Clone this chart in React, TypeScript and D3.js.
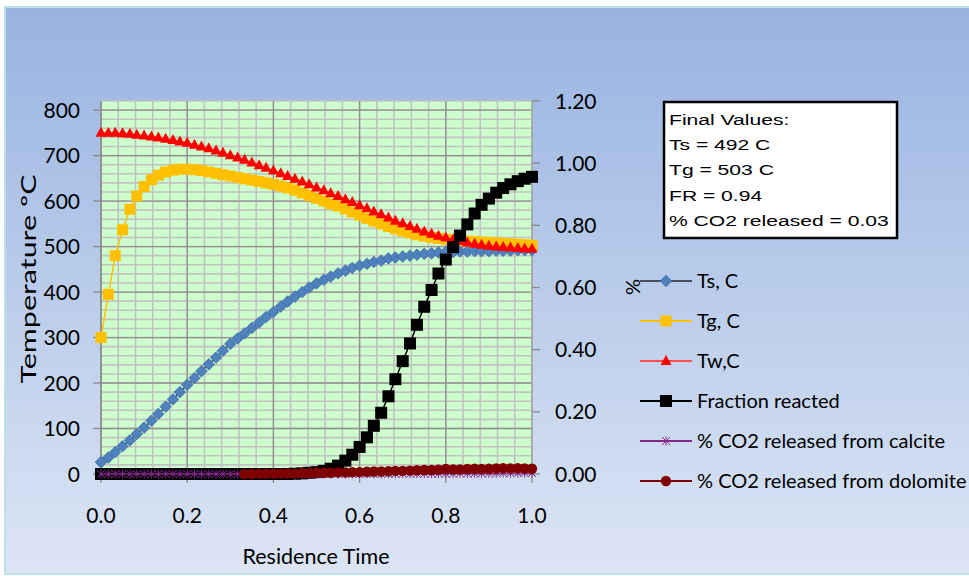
import React from 'react';
import * as d3 from 'd3';

// residence time (normalised) for each sample
const time = [
  0, 0.017, 0.033, 0.05, 0.067, 0.083,
  0.1, 0.117, 0.133, 0.15, 0.167, 0.183,
  0.2, 0.217, 0.233, 0.25, 0.267, 0.283,
  0.3, 0.317, 0.333, 0.35, 0.367, 0.383,
  0.4, 0.417, 0.433, 0.45, 0.467, 0.483,
  0.5, 0.517, 0.533, 0.55, 0.567, 0.583,
  0.6, 0.617, 0.633, 0.65, 0.667, 0.683,
  0.7, 0.717, 0.733, 0.75, 0.767, 0.783,
  0.8, 0.817, 0.833, 0.85, 0.867, 0.883,
  0.9, 0.917, 0.933, 0.95, 0.967, 0.983,
  1.0,
];

// temperatures, deg C (left axis)
const tsC = [
  26, 36, 48, 61, 74, 88,
  102, 117, 132, 148, 164, 180,
  196, 211, 226, 241, 256, 271,
  286, 298, 309, 321, 333, 345,
  356, 368, 379, 390, 400, 410,
  419, 427, 434, 441, 447, 453,
  458, 462, 466, 469, 474, 476,
  478, 480, 482, 484, 485, 487,
  488, 488, 489, 489, 490, 490,
  490, 491, 491, 491, 492, 492,
  492,
];
const tgC = [
  300, 395, 480, 537, 582, 611,
  632, 647, 657, 664, 668, 670,
  670, 669, 667, 664, 661, 658,
  655, 652, 649, 646, 643, 640,
  637, 633, 629, 624, 618, 612,
  606, 600, 594, 589, 583, 576,
  569, 562, 556, 550, 544, 539,
  534, 530, 526, 523, 520, 518,
  516, 514, 513, 512, 511, 510,
  509, 508, 507, 506, 505, 504,
  503,
];
const twC = [
  750, 750, 750, 749, 748, 746,
  744, 742, 740, 737, 734, 731,
  728, 724, 720, 716, 711, 706,
  701, 696, 691, 685, 679, 673,
  667, 661, 655, 649, 643, 637,
  630, 624, 617, 611, 604, 598,
  591, 584, 577, 571, 564, 557,
  551, 545, 539, 533, 528, 524,
  520, 516, 512, 509, 506, 504,
  502, 500, 499, 498, 497, 496,
  495,
];

// fractions (right axis)
const fracReacted = [
  0, 0, 0, 0, 0, 0,
  0, 0, 0, 0, 0, 0,
  0, 0, 0, 0, 0, 0,
  0, 0, 0, 0, 0, 0,
  0, 0, 0, 0.001, 0.002, 0.004,
  0.006, 0.01, 0.017, 0.027, 0.043, 0.062,
  0.087, 0.118, 0.155, 0.197, 0.25, 0.305,
  0.363, 0.42, 0.48, 0.538, 0.592, 0.645,
  0.69, 0.73, 0.767, 0.803, 0.838, 0.866,
  0.886, 0.905, 0.92, 0.932, 0.942, 0.95,
  0.956,
];
const co2Calcite = [
  0, 0, 0, 0, 0, 0,
  0, 0, 0, 0, 0, 0,
  0, 0, 0, 0, 0, 0,
  0, 0, 0, 0, 0, 0,
  0, 0, 0, 0, 0, 0,
  0, 0, 0, 0, 0, 0,
  0, 0, 0, 0, 0.001, 0.001,
  0.001, 0.001, 0.001, 0.001, 0.001, 0.001,
  0.001, 0.001, 0.002, 0.002, 0.002, 0.002,
  0.002, 0.002, 0.003, 0.003, 0.003, 0.003,
  0.003,
];
const co2Dolomite: (number | null)[] = [
  null, null, null, null, null, null,
  null, null, null, null, null, null,
  null, null, null, null, null, null,
  null, null, 0, 0, 0.001, 0.001,
  0.001, 0.002, 0.002, 0.002, 0.003, 0.003,
  0.004, 0.004, 0.004, 0.005, 0.005, 0.006,
  0.006, 0.007, 0.008, 0.008, 0.009, 0.01,
  0.01, 0.011, 0.012, 0.013, 0.013, 0.014,
  0.016, 0.015, 0.015, 0.016, 0.017, 0.016,
  0.017, 0.018, 0.019, 0.018, 0.019, 0.018,
  0.017,
];

const xTicks = [0, 0.2, 0.4, 0.6, 0.8, 1.0];
const leftTicks = [0, 100, 200, 300, 400, 500, 600, 700, 800];
const rightTicks = [0, 0.2, 0.4, 0.6, 0.8, 1.0, 1.2];
const finalLines = ['Final Values:', 'Ts = 492 C', 'Tg = 503 C', 'FR = 0.94', '% CO2 released = 0.03'];

type Marker = 'diamond' | 'square' | 'triangle' | 'bigsquare' | 'star' | 'circle';

interface Series {
  name: string;
  values: (number | null)[];
  axis: 'left' | 'right';
  line: string;
  fill: string;
  stroke: string;
  marker: Marker;
}

const series: Series[] = [
  { name: 'Ts, C', values: tsC, axis: 'left', line: '#4a4e5c', fill: '#4f81bd', stroke: '#3d6ca6', marker: 'diamond' },
  { name: 'Tg, C', values: tgC, axis: 'left', line: '#ffc000', fill: '#ffc000', stroke: '#ffc000', marker: 'square' },
  { name: 'Tw,C', values: twC, axis: 'left', line: '#ff4f4f', fill: '#ff0000', stroke: '#ff0000', marker: 'triangle' },
  { name: 'Fraction reacted', values: fracReacted, axis: 'right', line: '#000000', fill: '#000000', stroke: '#000000', marker: 'bigsquare' },
  { name: '% CO2 released from calcite', values: co2Calcite, axis: 'right', line: '#86278c', fill: 'none', stroke: '#86278c', marker: 'star' },
  { name: '% CO2 released from dolomite', values: co2Dolomite, axis: 'right', line: '#7f0000', fill: '#7f0000', stroke: '#7f0000', marker: 'circle' },
];

const W = 969;
const H = 576;
const plot = { left: 101, right: 532, top: 101, bottom: 474 };
const FONT = 'Lato, "Open Sans", sans-serif';

function MarkerShape({ type, x, y, fill, stroke }: { type: Marker; x: number; y: number; fill: string; stroke: string }) {
  switch (type) {
    case 'diamond':
      return <path d={`M${x},${y - 5.8}L${x + 5.8},${y}L${x},${y + 5.8}L${x - 5.8},${y}Z`} fill={fill} stroke={stroke} strokeWidth={0.8} />;
    case 'square':
      return <rect x={x - 5.5} y={y - 5.5} width={11} height={11} fill={fill} />;
    case 'bigsquare':
      return <rect x={x - 6} y={y - 6} width={12} height={12} fill={fill} />;
    case 'triangle':
      return <path d={`M${x},${y - 6}L${x + 5.5},${y + 4}L${x - 5.5},${y + 4}Z`} fill={fill} />;
    case 'circle':
      return <circle cx={x} cy={y} r={5.2} fill={fill} />;
    case 'star':
      return (
        <path
          d={`M${x - 4},${y - 4}L${x + 4},${y + 4}M${x - 4},${y + 4}L${x + 4},${y - 4}M${x},${y - 4.5}L${x},${y + 4.5}`}
          stroke={stroke}
          strokeWidth={1}
          fill="none"
        />
      );
  }
  return null;
}

export default function App() {
  const x = d3.scaleLinear().domain([0, 1]).range([plot.left, plot.right]);
  const yL = d3.scaleLinear().domain([0, 820]).range([plot.bottom, plot.top]);
  const yR = d3.scaleLinear().domain([0, 1.2]).range([plot.bottom, plot.top]);

  const minorX = d3.range(0, 1.0001, 0.04);
  const majorX = d3.range(0, 1.0001, 0.2);
  const minorY = d3.range(0, 821, 20);
  const majorY = d3.range(100, 801, 100);

  const legendRowY = d3.scalePoint<string>().domain(series.map(s => s.name)).range([281, 481]);

  return (
    <svg width={W} height={H} style={{ position: 'absolute', left: 0, top: 0 }} fontFamily={FONT}>
      <defs>
        <linearGradient id="bg" x1="0" y1="0" x2="0" y2="1">
          <stop offset="0" stopColor="#98b3e1" />
          <stop offset="1" stopColor="#dce5f4" />
        </linearGradient>
      </defs>
      <rect x={0} y={0} width={W} height={H} fill="#ffffff" />
      <rect x={5} y={7} width={W + 10} height={H - 9} fill="url(#bg)" stroke="#bde0e8" strokeWidth={2} />

      {/* plot area */}
      <rect x={plot.left} y={plot.top} width={plot.right - plot.left} height={plot.bottom - plot.top} fill="#ccffcc" />
      <g>
        {minorX.map((v, i) => (
          <line key={'mx' + i} x1={x(v)} x2={x(v)} y1={plot.top} y2={plot.bottom} stroke="#c2c2c2" strokeWidth={1.6} />
        ))}
        {minorY.map((v, i) => (
          <line key={'my' + i} x1={plot.left} x2={plot.right} y1={yL(v)} y2={yL(v)} stroke="#c2c2c2" strokeWidth={1.6} />
        ))}
        {majorX.map((v, i) => (
          <line key={'Mx' + i} x1={x(v)} x2={x(v)} y1={plot.top} y2={plot.bottom} stroke="#909090" strokeWidth={1.3} />
        ))}
        {majorY.map((v, i) => (
          <line key={'My' + i} x1={plot.left} x2={plot.right} y1={yL(v)} y2={yL(v)} stroke="#909090" strokeWidth={1.3} />
        ))}
      </g>

      {/* axes */}
      <line x1={plot.left} x2={plot.left} y1={plot.top} y2={plot.bottom} stroke="#8a8a8a" strokeWidth={1.3} />
      <line x1={plot.right} x2={plot.right} y1={plot.top} y2={plot.bottom} stroke="#a8b4a8" strokeWidth={1.3} />
      <line x1={plot.left} x2={plot.right} y1={plot.bottom} y2={plot.bottom} stroke="#8a8a8a" strokeWidth={1.3} />
      {leftTicks.map(v => (
        <g key={'lt' + v}>
          <line x1={plot.left - 8} x2={plot.left} y1={yL(v)} y2={yL(v)} stroke="#8a8a8a" strokeWidth={1.3} />
          <text x={80} y={yL(v) + 7.5} textAnchor="end" fontSize={21} fill="#000">
            {v}
          </text>
        </g>
      ))}
      {rightTicks.map(v => (
        <g key={'rt' + v}>
          <line x1={plot.right} x2={plot.right + 8} y1={yR(v)} y2={yR(v)} stroke="#8a8a8a" strokeWidth={1.3} />
          <text x={555} y={yR(v) + 7.5} textAnchor="start" fontSize={21} fill="#000">
            {v.toFixed(2)}
          </text>
        </g>
      ))}
      {xTicks.map(v => (
        <g key={'xt' + v}>
          <line x1={x(v)} x2={x(v)} y1={plot.bottom} y2={plot.bottom + 9} stroke="#8a8a8a" strokeWidth={1.3} />
          <text x={x(v)} y={523} textAnchor="middle" fontSize={21} fill="#000">
            {v.toFixed(1)}
          </text>
        </g>
      ))}

      {/* axis titles */}
      <text x={316} y={564} textAnchor="middle" fontSize={21.5} fill="#000">Residence Time</text>
      <text transform="translate(36,279) rotate(-90) scale(1.45,1)" textAnchor="middle" fontSize={21} fill="#000">Temperature ºC</text>
      <text transform="translate(640,287) rotate(-90)" textAnchor="middle" fontSize={20} fill="#000">%</text>

      {/* series */}
      {series.map(s => {
        const yScale = s.axis === 'left' ? yL : yR;
        const pts = s.values.map((v, i) => ({ t: time[i], v }));
        const line = d3
          .line<{ t: number; v: number | null }>()
          .defined(d => d.v != null)
          .x(d => x(d.t))
          .y(d => yScale(d.v as number));
        return (
          <g key={s.name}>
            <path d={line(pts) || ''} fill="none" stroke={s.line} strokeWidth={1.5} />
            {pts
              .filter(d => d.v != null)
              .map((d, i) => (
                <MarkerShape key={i} type={s.marker} x={x(d.t)} y={yScale(d.v as number)} fill={s.fill} stroke={s.stroke} />
              ))}
          </g>
        );
      })}

      {/* legend */}
      {series.map(s => {
        const y = legendRowY(s.name) as number;
        return (
          <g key={'lg' + s.name}>
            <line x1={640} x2={692} y1={y} y2={y} stroke={s.line} strokeWidth={2} />
            <MarkerShape type={s.marker} x={666} y={y} fill={s.fill} stroke={s.stroke} />
            <text x={697} y={y + 7} fontSize={20} fill="#000">
              {s.name}
            </text>
          </g>
        );
      })}

      {/* final values box */}
      <rect x={664} y={102} width={233} height={136} fill="#ffffff" stroke="#000" strokeWidth={2.5} />
      {finalLines.map((t, i) => (
        <text
          key={'fv' + i}
          transform={`translate(669,${125 + i * 25.2}) scale(1.36,1)`}
          fontFamily='"Liberation Sans", Arial, sans-serif'
          fontSize={15.5}
          fill="#000"
        >
          {t}
        </text>
      ))}
    </svg>
  );
}
